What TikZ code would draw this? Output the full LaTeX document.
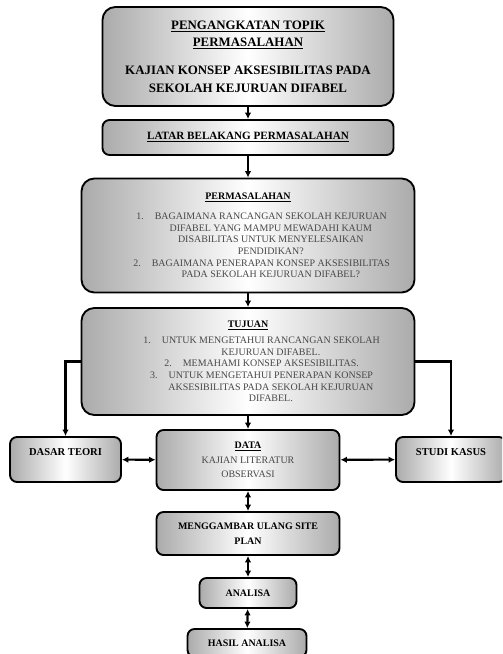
\documentclass[tikz,border=0pt]{standalone}
\usepackage{fontspec}
\setmainfont{Liberation Serif}
\usetikzlibrary{arrows.meta}
\newcommand{\judul}[1]{\textcolor{black}{\bfseries\underline{#1}}}
\newcommand{\butir}[2]{\hspace*{39pt}\llap{#1\hspace{1.1em}}#2}

\begin{document}
\begin{tikzpicture}[x=0.03cm, y=-0.03cm,
  every node/.style = {shape=rectangle, rounded corners=6pt,
    draw, line width=1.6pt, align=center,
    left color=black!33, right color=black!33, middle color=white},
  kotak besar/.style = {rounded corners=11pt},
  isi/.style = {font=\fontsize{8.5}{10}\selectfont, text=black!72},
  tebal/.style = {font=\fontsize{8.5}{12.7}\selectfont\bfseries},
  panah/.style = {line width=1.8pt, -{Latex[length=5.5pt,width=5.5pt]}},
  panah dua/.style = {line width=1.8pt,
    {Latex[length=5.5pt,width=5.5pt]}-{Latex[length=5.5pt,width=5.5pt]}}]
  \clip (0,0) rectangle (502,654);

  % alur utama
  \node[kotak besar, minimum width=8.73cm, minimum height=2.97cm,
    font=\fontsize{11}{15}\selectfont\bfseries] (atas) at (248,56.5)
    {\underline{PENGANGKATAN TOPIK}\\ \underline{PERMASALAHAN}\\[9pt]
     KAJIAN KONSEP AKSESIBILITAS PADA\\ SEKOLAH KEJURUAN DIFABEL};
  \node[minimum width=8.73cm, minimum height=1.05cm,
    font=\fontsize{9.5}{12}\selectfont\bfseries] (latar) at (248,137.5)
    {\underline{LATAR BELAKANG PERMASALAHAN}};
  \node[kotak besar, isi, minimum width=9.99cm, minimum height=3.42cm]
    (masalah) at (248,235.5)
    {\judul{PERMASALAHAN}\\[7pt]
     \butir{1.}{BAGAIMANA RANCANGAN SEKOLAH KEJURUAN}\\
     \butir{}{DIFABEL YANG MAMPU MEWADAHI KAUM}\\
     \butir{}{DISABILITAS UNTUK MENYELESAIKAN}\\
     \butir{}{PENDIDIKAN?}\\
     \butir{2.}{BAGAIMANA PENERAPAN KONSEP AKSESIBILITAS}\\
     \butir{}{PADA SEKOLAH KEJURUAN DIFABEL?}};
  \node[kotak besar, isi, minimum width=9.99cm, minimum height=3.21cm]
    (tujuan) at (248,361.5)
    {\judul{TUJUAN}\\[3.6pt]
     \butir{1.}{UNTUK MENGETAHUI RANCANGAN SEKOLAH}\\
     \butir{}{KEJURUAN DIFABEL.}\\
     \butir{2.}{MEMAHAMI KONSEP AKSESIBILITAS.}\\
     \butir{3.}{UNTUK MENGETAHUI PENERAPAN KONSEP}\\
     \butir{}{AKSESIBILITAS PADA SEKOLAH KEJURUAN}\\
     \butir{}{DIFABEL.}};

  % baris data
  \node[minimum width=3.33cm, minimum height=1.35cm,
    font=\fontsize{9}{13}\selectfont\bfseries] (dasar) at (65.5,459.5)
    {DASAR TEORI\\ \mbox{}};
  \node[isi, minimum width=5.49cm, minimum height=1.8cm,
    font=\fontsize{8.5}{12.3}\selectfont] (data) at (248,460)
    {\judul{DATA}\\ KAJIAN LITERATUR\\ OBSERVASI};
  \node[minimum width=3.3cm, minimum height=1.35cm,
    font=\fontsize{9}{13}\selectfont\bfseries] (studi) at (451,459.5)
    {STUDI KASUS\\ \mbox{}};

  % tahap akhir
  \node[tebal, minimum width=5.49cm, minimum height=1.29cm] (gambar)
    at (248,533.5) {MENGGAMBAR ULANG SITE\\ PLAN};
  \node[tebal, minimum width=2.91cm, minimum height=0.9cm] (analisa)
    at (248,593) {ANALISA};
  \node[tebal, minimum width=3.57cm, minimum height=0.84cm] (hasil)
    at (247,643) {HASIL ANALISA};

  \draw[panah] (atas) -- (latar);
  \draw[panah] (latar) -- (masalah);
  \draw[panah] (masalah) -- (tujuan);
  \draw[panah] (tujuan) -- (data);
  \draw[panah] (tujuan.west) -| (dasar);
  \draw[panah] (tujuan.east) -| (studi);
  \draw[panah dua] (dasar) -- (data);
  \draw[panah dua] (data) -- (studi);
  \draw[panah dua] (data) -- (gambar);
  \draw[panah dua] (gambar) -- (analisa);
  \draw[panah dua] (analisa) -- (hasil);
\end{tikzpicture}
\end{document}
